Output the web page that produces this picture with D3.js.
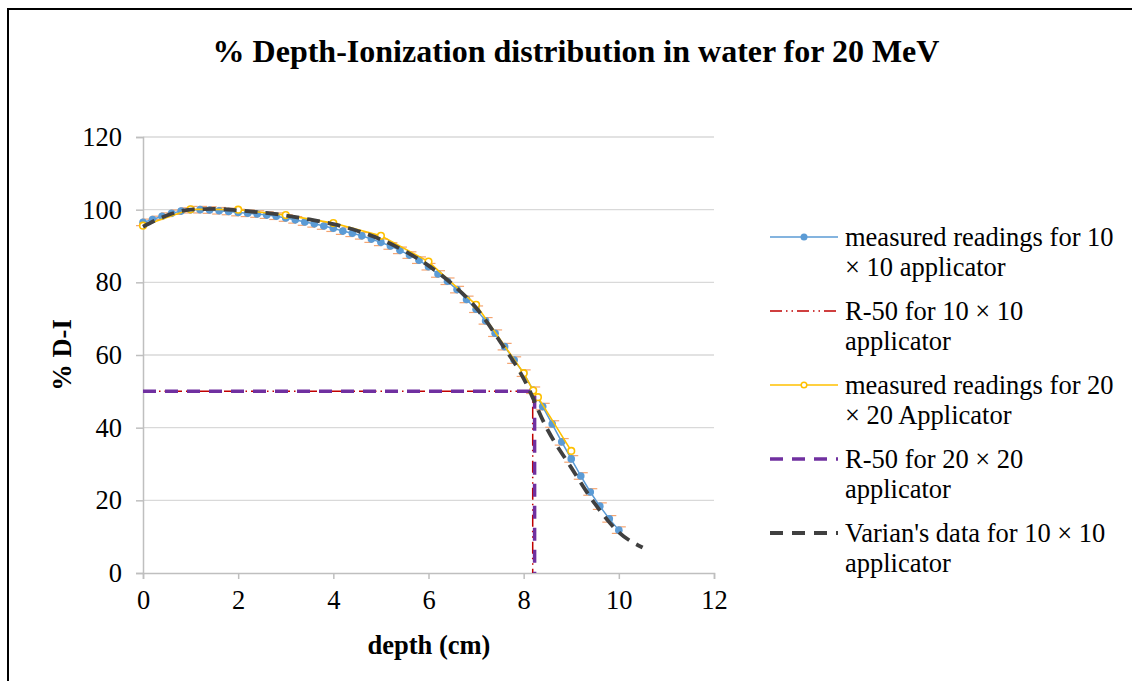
<!DOCTYPE html>
<html>
<head>
<meta charset="utf-8">
<script src="https://cdn.jsdelivr.net/npm/d3@7"></script>
<style>
  body { margin: 0; background: #fff; }
  svg text { font-family: "Liberation Serif", "Times New Roman", serif; fill: #000; }
</style>
</head>
<body>
<div id="chart"></div>
<script>
// depth values (cm) and % D-I for each series
var depth10 = [0, 0.2, 0.4, 0.6, 0.8, 1.0, 1.2, 1.4, 1.6, 1.8, 2.0, 2.2, 2.4, 2.6, 2.8, 3.0, 3.2, 3.4, 3.6, 3.8,
               4.0, 4.2, 4.4, 4.6, 4.8, 5.0, 5.2, 5.4, 5.6, 5.8, 6.0, 6.2, 6.4, 6.6, 6.8, 7.0, 7.2, 7.4, 7.6, 7.8,
               8.0, 8.2, 8.4, 8.6, 8.8, 9.0, 9.2, 9.4, 9.6, 9.8, 10.0];
var di10 = [96.5, 97.3, 98.2, 99.0, 99.6, 100.0, 100.0, 99.9, 99.7, 99.5, 99.2, 99.0, 98.8, 98.5, 98.2, 97.7, 97.2, 96.6, 96.1, 95.5,
            94.9, 94.1, 93.5, 92.8, 91.9, 91.0, 90.0, 88.8, 87.5, 86.1, 84.3, 82.3, 80.3, 78.0, 75.3, 72.6, 69.4, 66.0, 62.3, 58.6,
            55.0, 50.3, 45.8, 41.0, 36.1, 31.4, 26.7, 22.3, 18.4, 14.9, 11.8];

var depth20 = [0, 1, 2, 3, 4, 5, 6, 7, 8, 8.2, 8.3, 9];
var di20 = [95.6, 100.1, 100.0, 98.5, 96.3, 92.8, 85.7, 73.8, 55.0, 50.2, 48.4, 33.6];

var depthVarian = [0, 0.5, 1.0, 1.5, 2.0, 2.5, 3.0, 3.5, 4.0, 4.5, 5.0, 5.5, 6.0, 6.5, 7.0, 7.5, 8.0, 8.5, 9.0, 9.5, 10.0, 10.5];
var diVarian = [95.3, 98.4, 100.0, 100.2, 99.8, 99.2, 98.4, 97.3, 96.0, 94.2, 91.8, 88.6, 84.6, 79.5, 73.0, 63.8, 53.5, 39.5, 29.0, 19.0, 11.2, 7.0];

var r50_10 = 8.19;
var r50_20 = 8.23;

var xTicks = [0, 2, 4, 6, 8, 10, 12];
var yTicks = [0, 20, 40, 60, 80, 100, 120];

var legendLabels = [
  ["measured readings for 10", "\u00d7 10 applicator"],
  ["R-50 for 10 \u00d7 10", "applicator"],
  ["measured readings for 20", "\u00d7 20 Applicator"],
  ["R-50 for 20 \u00d7 20", "applicator"],
  ["Varian's data for 10 \u00d7 10", "applicator"]
];

var width = 1132, height = 681;
var margin = {left: 143, right: 418, top: 137, bottom: 108};

var svg = d3.select("#chart").append("svg")
  .attr("width", width).attr("height", height);

// outer frame (only left and top edges show in the picture)
svg.append("path")
  .attr("d", "M8," + height + " L8,9 L" + width + ",9")
  .attr("fill", "none").attr("stroke", "#000").attr("stroke-width", 2);

var x = d3.scaleLinear().domain([0, 12]).range([margin.left, width - margin.right]);
var y = d3.scaleLinear().domain([0, 120]).range([height - margin.bottom, margin.top]);

// gridlines
svg.append("g")
  .selectAll("line").data(yTicks.filter(function(d){ return d > 0; })).enter()
  .append("line")
  .attr("x1", x(0)).attr("x2", x(12))
  .attr("y1", function(d){ return y(d); }).attr("y2", function(d){ return y(d); })
  .attr("stroke", "#d9d9d9").attr("stroke-width", 1.3);

// axes
var xAxis = svg.append("g")
  .attr("transform", "translate(0," + y(0) + ")")
  .call(d3.axisBottom(x).tickValues(xTicks).tickSize(6).tickPadding(11));
var yAxis = svg.append("g")
  .attr("transform", "translate(" + x(0) + ",0)")
  .call(d3.axisLeft(y).tickValues(yTicks).tickSize(7).tickPadding(14));
[xAxis, yAxis].forEach(function(a){
  a.select(".domain").attr("stroke", "#bfbfbf").attr("stroke-width", 1.5);
  a.selectAll(".tick line").attr("stroke", "#bfbfbf").attr("stroke-width", 1.5);
  a.selectAll(".tick text").style("font-family", "Liberation Serif").style("font-size", "26.5px").attr("fill", "#000");
});

// titles
svg.append("text")
  .attr("x", 576).attr("y", 62)
  .attr("text-anchor", "middle")
  .style("font-size", "32px").style("font-weight", "bold")
  .text("% Depth-Ionization distribution in water for 20 MeV");
svg.append("text")
  .attr("x", 429).attr("y", 654)
  .attr("text-anchor", "middle")
  .style("font-size", "26.5px").style("font-weight", "bold")
  .text("depth (cm)");
svg.append("text")
  .attr("transform", "translate(71," + 355 + ") rotate(-90)")
  .attr("text-anchor", "middle")
  .style("font-size", "26.5px").style("font-weight", "bold")
  .text("% D-I");

var plot = svg.append("g");
var straight = d3.line().x(function(d){ return x(d[0]); }).y(function(d){ return y(d[1]); });
var smooth = d3.line().curve(d3.curveMonotoneX).x(function(d){ return x(d[0]); }).y(function(d){ return y(d[1]); });

var pts10 = depth10.map(function(d, i){ return [d, di10[i]]; });
var pts20 = depth20.map(function(d, i){ return [d, di20[i]]; });
var ptsVar = depthVarian.map(function(d, i){ return [d, diVarian[i]]; });

// measured 10 x 10: error caps, line, markers
var errs = plot.append("g").selectAll("g").data(pts10).enter().append("g");
errs.append("line")
  .attr("x1", function(d){ return x(d[0]) - 1; }).attr("x2", function(d){ return x(d[0]) + 7; })
  .attr("y1", function(d){ return y(d[1] + 0.9); }).attr("y2", function(d){ return y(d[1] + 0.9); })
  .attr("stroke", "#f4a470").attr("stroke-width", 1.2);
errs.append("line")
  .attr("x1", function(d){ return x(d[0]) - 7; }).attr("x2", function(d){ return x(d[0]) + 1; })
  .attr("y1", function(d){ return y(d[1] - 0.9); }).attr("y2", function(d){ return y(d[1] - 0.9); })
  .attr("stroke", "#f4a470").attr("stroke-width", 1.2);
plot.append("path").datum(pts10)
  .attr("d", straight).attr("fill", "none").attr("stroke", "#5b9bd5").attr("stroke-width", 1.5);
plot.append("g").selectAll("circle").data(pts10).enter().append("circle")
  .attr("cx", function(d){ return x(d[0]); }).attr("cy", function(d){ return y(d[1]); })
  .attr("r", 3.8).attr("fill", "#5b9bd5");

// R-50 for 10 x 10
plot.append("path").datum([[0, 50], [r50_10, 50], [r50_10, 0]])
  .attr("d", straight).attr("fill", "none").attr("stroke", "#c00000").attr("stroke-width", 1.5)
  .attr("stroke-dasharray", "12,4,1.5,4,1.5,4");

// measured 20 x 20
plot.append("path").datum(pts20)
  .attr("d", straight).attr("fill", "none").attr("stroke", "#ffc000").attr("stroke-width", 1.6);
plot.append("g").selectAll("circle").data(pts20).enter().append("circle")
  .attr("cx", function(d){ return x(d[0]); }).attr("cy", function(d){ return y(d[1]); })
  .attr("r", 3.3).attr("fill", "#fff").attr("stroke", "#ffc000").attr("stroke-width", 1.6);

// R-50 for 20 x 20
plot.append("path").datum([[0, 50], [r50_20, 50], [r50_20, 0]])
  .attr("d", straight).attr("fill", "none").attr("stroke", "#7030a0").attr("stroke-width", 3.5)
  .attr("stroke-dasharray", "13,9");

// Varian data
plot.append("path").datum(ptsVar)
  .attr("d", smooth).attr("fill", "none").attr("stroke", "#404040").attr("stroke-width", 3.8)
  .attr("stroke-dasharray", "13,8");

// legend
var legStyles = [
  {color: "#5b9bd5", w: 1.5, dash: null, marker: "filled"},
  {color: "#c00000", w: 1.5, dash: "12,4,1.5,4,1.5,4", marker: null},
  {color: "#ffc000", w: 1.6, dash: null, marker: "hollow"},
  {color: "#7030a0", w: 3.5, dash: "13,9", marker: null},
  {color: "#404040", w: 3.8, dash: "13,9", marker: null}
];
var leg = svg.append("g").selectAll("g").data(legendLabels).enter().append("g")
  .attr("transform", function(d, i){ return "translate(770," + (237 + i * 74) + ")"; });
leg.append("line")
  .attr("x1", 0).attr("x2", 68).attr("y1", 0).attr("y2", 0)
  .attr("stroke", function(d, i){ return legStyles[i].color; })
  .attr("stroke-width", function(d, i){ return legStyles[i].w; })
  .attr("stroke-dasharray", function(d, i){ return legStyles[i].dash; });
leg.filter(function(d, i){ return legStyles[i].marker; }).append("circle")
  .attr("cx", 34).attr("cy", 0)
  .attr("r", function(d){ return legendLabels.indexOf(d) === 0 ? 3.5 : 2.8; })
  .attr("fill", function(d){ return legendLabels.indexOf(d) === 0 ? "#5b9bd5" : "#fff"; })
  .attr("stroke", function(d){ return legendLabels.indexOf(d) === 0 ? "none" : "#ffc000"; })
  .attr("stroke-width", 1.5);
leg.append("text")
  .attr("x", 75).attr("y", 9)
  .style("font-size", "26.5px")
  .selectAll("tspan").data(function(d){ return d; }).enter().append("tspan")
  .attr("x", 75).attr("dy", function(d, i){ return i === 0 ? 0 : 30; })
  .text(function(d){ return d; });
</script>
</body>
</html>
